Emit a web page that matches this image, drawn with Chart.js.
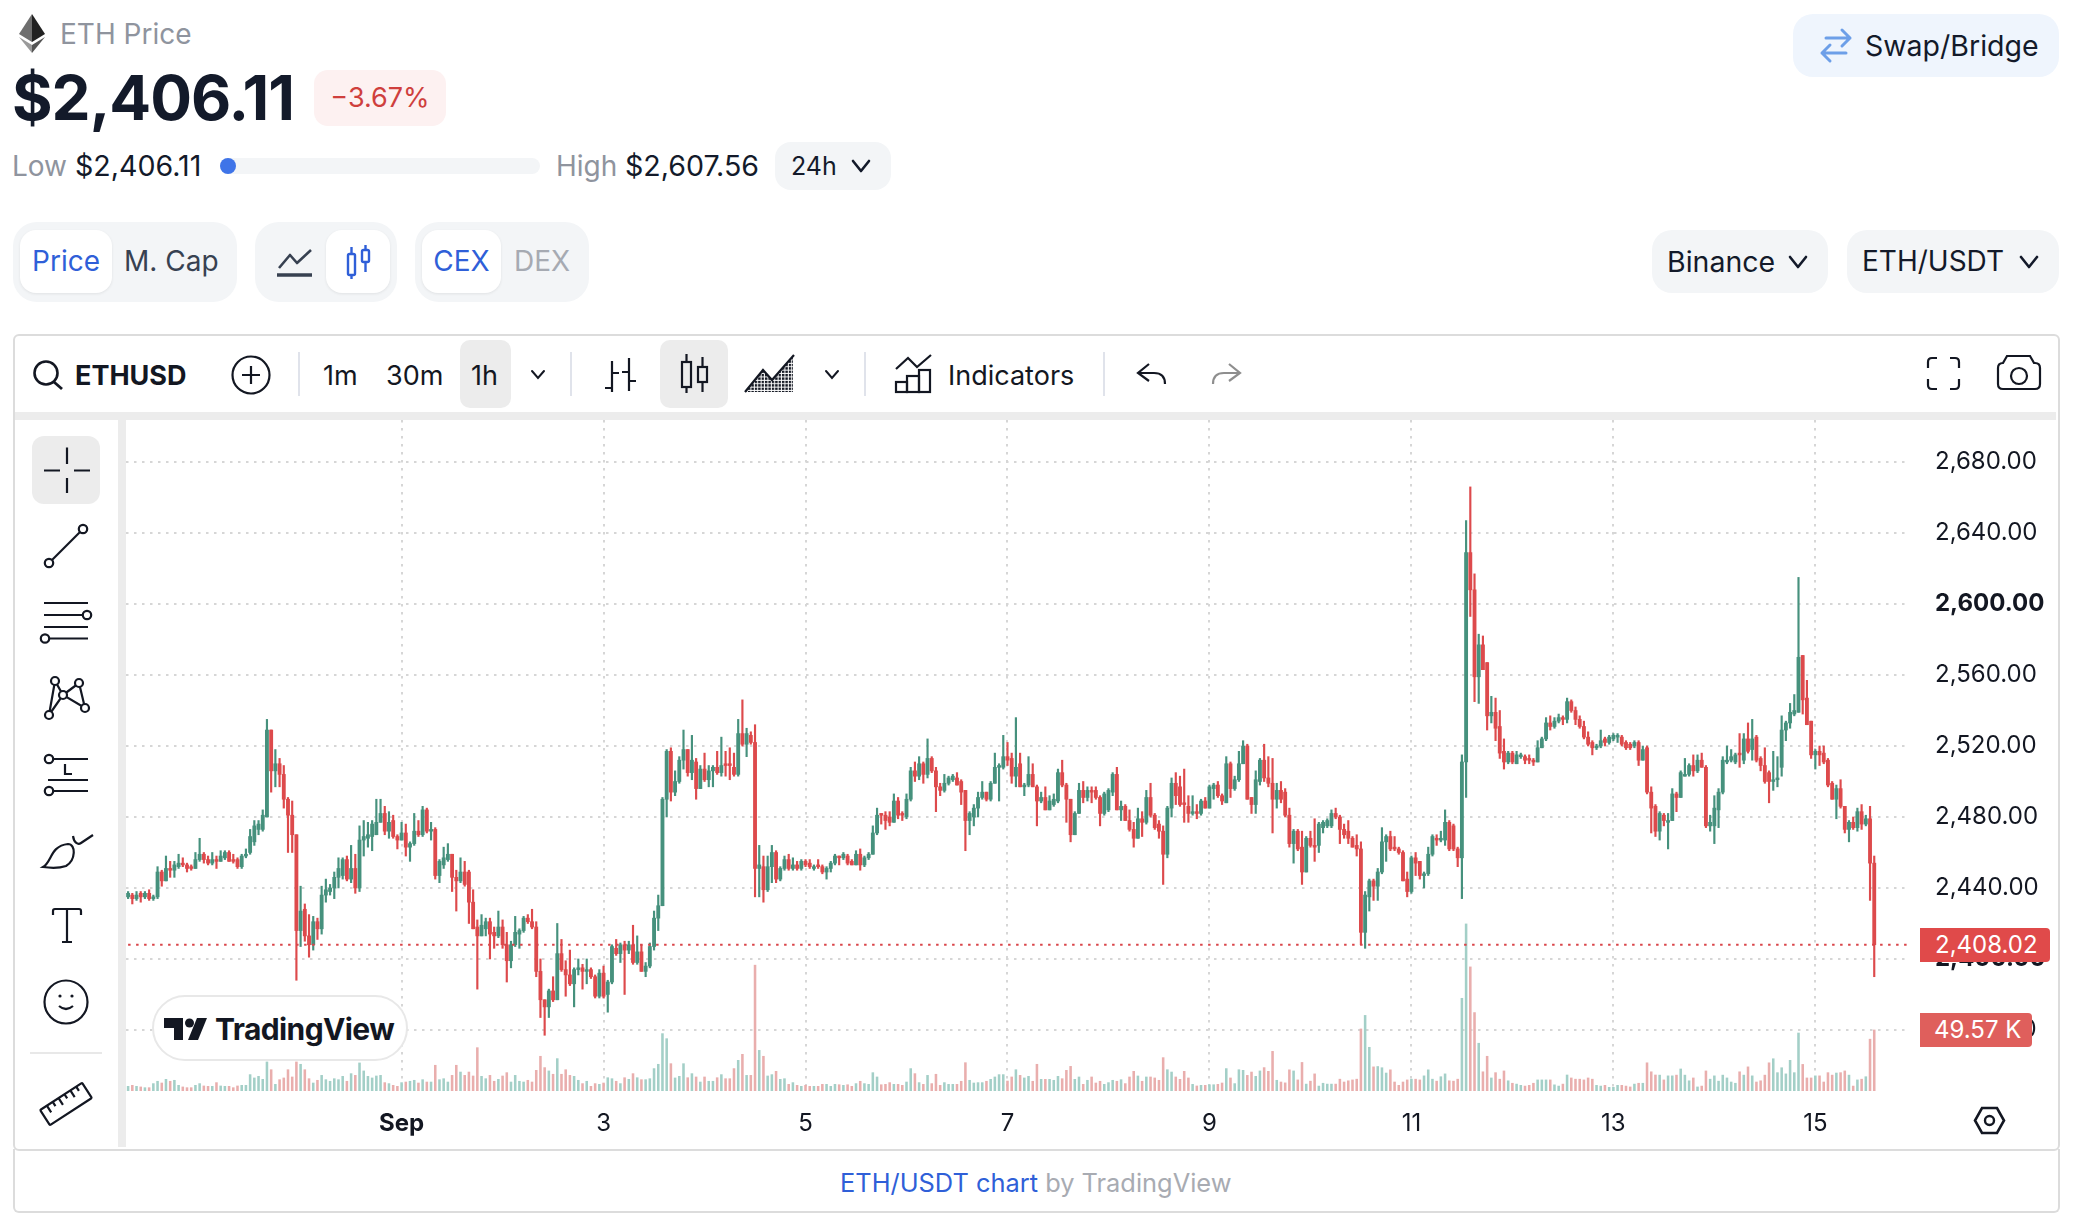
<!DOCTYPE html>
<html>
<head>
<meta charset="utf-8">
<title>ETH Price</title>
<script src="https://cdn.jsdelivr.net/npm/chart.js@4"></script>
<style>
html, body { margin: 0; padding: 0; background: #fff; }
body { width: 2078px; height: 1230px; position: relative; overflow: hidden; font-family: Inter, sans-serif; color: #131a2a; }
.a { position: absolute; white-space: nowrap; }
.pill { background: #f3f5f7; border-radius: 20px; }
.white { background: #fff; border-radius: 16px; box-shadow: 0 1px 3px rgba(0,0,0,.08); }
.gray { color: #8f949e; }
.blue { color: #2f5fd8; }
.tool { font-size: 27px; line-height: 40px; color: #131722; top: 356px; }
svg { position: absolute; left: 0; top: 0; }
</style>
</head>
<body>

<!-- header -->
<div class="a gray" style="left:60px;top:16px;font-size:28px;line-height:36px">ETH Price</div>
<div class="a" style="left:12px;top:60px;font-size:62px;line-height:76px;font-weight:700;letter-spacing:-1px">$2,406.11</div>
<div class="a" style="left:314px;top:70px;width:132px;height:56px;border-radius:14px;background:#fdf1f1;color:#cf3f3d;font-size:27px;line-height:56px;text-align:center">−3.67%</div>
<div class="a gray" style="left:12px;top:148px;font-size:28px;line-height:36px">Low</div>
<div class="a" style="left:75px;top:148px;font-size:28.6px;line-height:36px">$2,406.11</div>
<div class="a" style="left:220px;top:158px;width:320px;height:16px;border-radius:8px;background:#f3f5f7"></div>
<div class="a" style="left:220px;top:158px;width:16px;height:16px;border-radius:8px;background:#3f74e8"></div>
<div class="a gray" style="left:556px;top:148px;font-size:28px;line-height:36px">High</div>
<div class="a" style="left:625px;top:148px;font-size:28.6px;line-height:36px">$2,607.56</div>
<div class="a pill" style="left:775px;top:142px;width:116px;height:48px;border-radius:16px"></div>
<div class="a" style="left:791px;top:148px;font-size:25px;line-height:36px">24h</div>

<div class="a pill" style="left:1793px;top:14px;width:266px;height:63px;background:#eff5fd"></div>
<div class="a" style="left:1865px;top:28px;font-size:28.5px;line-height:36px">Swap/Bridge</div>

<!-- toggles -->
<div class="a pill" style="left:13px;top:222px;width:224px;height:80px;border-radius:24px"></div>
<div class="a white" style="left:20px;top:230px;width:92px;height:63px"></div>
<div class="a blue" style="left:20px;top:230px;width:92px;font-size:28px;line-height:63px;text-align:center">Price</div>
<div class="a" style="left:124px;top:230px;font-size:28px;line-height:63px;color:#374151">M. Cap</div>
<div class="a pill" style="left:255px;top:222px;width:142px;height:80px;border-radius:24px"></div>
<div class="a white" style="left:326px;top:230px;width:64px;height:63px"></div>
<div class="a pill" style="left:415px;top:222px;width:174px;height:80px;border-radius:24px"></div>
<div class="a white" style="left:422px;top:230px;width:79px;height:63px"></div>
<div class="a blue" style="left:422px;top:230px;width:79px;font-size:28px;line-height:63px;text-align:center">CEX</div>
<div class="a gray" style="left:514px;top:230px;font-size:28px;line-height:63px;color:#a6aab2">DEX</div>
<div class="a pill" style="left:1652px;top:230px;width:176px;height:63px"></div>
<div class="a" style="left:1667px;top:230px;font-size:28.5px;line-height:63px">Binance</div>
<div class="a pill" style="left:1847px;top:230px;width:212px;height:63px"></div>
<div class="a" style="left:1862px;top:230px;font-size:28px;line-height:63px">ETH/USDT</div>

<!-- chart frame -->
<div class="a" style="left:13px;top:334px;width:2043px;height:813px;border:2px solid #dcdcdc;border-radius:6px"></div>
<div class="a" style="left:13px;top:1149px;width:2043px;height:62px;border:2px solid #dcdcdc;border-top:none;border-radius:0 0 6px 6px"></div>
<div class="a" style="left:15px;top:412px;width:2041px;height:8px;background:#ececec"></div>
<div class="a" style="left:118px;top:412px;width:8px;height:735px;background:#ececec"></div>

<!-- chart toolbar -->
<div class="a" style="left:75px;top:356px;font-size:27px;line-height:40px;font-weight:700;color:#131722">ETHUSD</div>
<div class="a" style="left:460px;top:340px;width:51px;height:68px;border-radius:10px;background:#ececec"></div>
<div class="a" style="left:660px;top:340px;width:68px;height:68px;border-radius:10px;background:#ececec"></div>
<div class="a tool" style="left:323px">1m</div>
<div class="a tool" style="left:386px">30m</div>
<div class="a tool" style="left:471px">1h</div>
<div class="a tool" style="left:948px">Indicators</div>
<div class="a" style="left:32px;top:436px;width:68px;height:68px;border-radius:12px;background:#ececec"></div>

<!-- footer -->
<div class="a" style="left:840px;top:1165px;font-size:25.4px;line-height:36px;color:#a8abb2"><span class="blue">ETH/USDT chart</span> by TradingView</div>

<canvas id="price-chart" class="a" width="1932" height="729" style="left:126px;top:420px"></canvas>

<!-- overlays on top of the chart -->
<div class="a" style="left:152px;top:995px;width:252px;height:62px;border:2px solid #e8e8e8;border-radius:33px;background:#fff"></div>
<div class="a" style="left:215px;top:1010px;font-size:30px;line-height:38px;font-weight:700;letter-spacing:-.6px;color:#131722">TradingView</div>
<div class="a" id="last-price-tag" style="left:1920px;top:928px;width:130px;height:34px;border-radius:0 4px 4px 0;background:#e04a4a;color:#fff;font-size:24px;line-height:34px;padding-left:15px;box-sizing:border-box"></div>
<div class="a" id="last-volume-tag" style="left:1920px;top:1013px;width:112px;height:34px;border-radius:0 4px 4px 0;background:#df5f5c;color:#fff;font-size:24px;line-height:34px;padding-left:14px;box-sizing:border-box"></div>

<!-- icons -->
<svg width="2078" height="1230" viewBox="0 0 2078 1230" fill="none" stroke="#131722" stroke-width="2.2">
<defs>
<pattern id="hatch" width="3.4" height="3.4" patternUnits="userSpaceOnUse"><rect width="1.3" height="1.3" fill="#131722"/></pattern>
</defs>
<!-- eth logo -->
<g stroke="none">
<polygon points="32,14 45,34 32,42" fill="#222"/>
<polygon points="32,14 19,34 32,42" fill="#6e6e6e"/>
<polygon points="19,37 32,45 32,53" fill="#9a9a9a"/>
<polygon points="45,37 32,45 32,53" fill="#555"/>
</g>
<!-- chevrons -->
<g stroke="#131a2a" stroke-width="2.6" stroke-linecap="round" stroke-linejoin="round">
<polyline points="853,161 861,171 869,161"/>
<polyline points="1790,257 1798,267 1806,257"/>
<polyline points="2021,257 2029,267 2037,257"/>
</g>
<g stroke-width="2" stroke-linecap="round">
<polyline points="532,371 538,378 544,371"/>
<polyline points="826,371 832,378 838,371"/>
</g>
<!-- swap arrows -->
<g stroke="#6d9fe8" stroke-width="3" stroke-linecap="round" stroke-linejoin="round">
<path d="M1826 38 H1850 M1842 30 L1850 38 L1842 46"/>
<path d="M1846 53 H1822 M1830 45 L1822 53 L1830 61"/>
</g>
<!-- line + candle toggle -->
<g stroke="#374151" stroke-width="2.6" stroke-linejoin="round">
<polyline points="279,268 290,255 297,263 311,250"/>
<line x1="277" y1="275" x2="312" y2="275" stroke-width="3.4"/>
</g>
<g stroke="#2f5fd8" stroke-width="2.4">
<rect x="348" y="254" width="7" height="21" rx="1.5"/><line x1="351.5" y1="247" x2="351.5" y2="254"/><line x1="351.5" y1="275" x2="351.5" y2="279"/>
<rect x="362" y="250" width="7" height="12" rx="1.5"/><line x1="365.5" y1="245" x2="365.5" y2="250"/><line x1="365.5" y1="262" x2="365.5" y2="272"/>
</g>
<!-- toolbar -->
<circle cx="46" cy="373" r="11.5" stroke-width="2.6"/><line x1="54" y1="382" x2="62" y2="389" stroke-width="2.8"/>
<circle cx="251" cy="375" r="18.5"/><path d="M251 366 V384 M242 375 H260"/>
<g stroke="#e0e3eb" stroke-width="2">
<line x1="299" y1="352" x2="299" y2="396"/><line x1="571" y1="352" x2="571" y2="396"/>
<line x1="865" y1="352" x2="865" y2="396"/><line x1="1104" y1="352" x2="1104" y2="396"/>
</g>
<path d="M612 361 V392 M605 388 H612 M612 373 H619 M629 358 V391 M622 372 H629 M629 381 H636"/>
<rect x="682" y="362" width="9" height="25"/><path d="M686.5 354 V362 M686.5 387 V393"/>
<rect x="698" y="367" width="9" height="15"/><path d="M702.5 357 V367 M702.5 382 V392"/>
<polygon points="746,392 763,370 772,381 793,356 793,392" fill="url(#hatch)" stroke="none"/>
<polyline points="745,392 763,370 772,380 794,355"/>
<polyline points="896,369 908,358 917,367 931,355"/>
<rect x="896" y="382" width="11" height="10"/><rect x="907" y="376" width="12" height="16"/><rect x="919" y="370" width="11" height="22"/>
<path d="M1149 364 L1138 373 L1149 381 M1138 373 H1154 Q1165 373 1165 384"/>
<path d="M1229 364 L1240 373 L1229 381 M1240 373 H1224 Q1213 373 1213 384" stroke="#8e8e8e"/>
<path d="M1937 358 H1932 Q1928 358 1928 362 V368 M1950 358 H1955 Q1959 358 1959 362 V368 M1928 379 V385 Q1928 389 1932 389 H1937 M1959 379 V385 Q1959 389 1955 389 H1950"/>
<path d="M2003 363 L2007 356 H2030 L2034 363 H2035 Q2040 363 2040 368 V384 Q2040 389 2035 389 H2003 Q1998 389 1998 384 V368 Q1998 363 2003 363 Z"/>
<circle cx="2019" cy="376" r="8"/>
<!-- settings -->
<polygon points="1982,1108 1997,1108 2004,1120.5 1997,1133 1982,1133 1975,1120.5" stroke-width="2.6"/>
<circle cx="1989.5" cy="1120.5" r="4.5" stroke-width="2.4"/>
<!-- sidebar tools -->
<path d="M44 470.5 H60 M74 470.5 H90 M67 447.5 V464 M67 478 V493" />
<line x1="52" y1="560" x2="80" y2="532"/><circle cx="49" cy="563" r="4.2"/><circle cx="83" cy="529" r="4.2"/>
<path d="M44 603 H88 M44 615 H83 M44 627 H88 M49 638.5 H88"/><circle cx="87" cy="615" r="4.2"/><circle cx="45" cy="638.5" r="4.2"/>
<path d="M49 715 L55 681 L63 695 Z M63 695 L79 683 L85 708 Z"/>
<g fill="#fff"><circle cx="55" cy="681" r="4"/><circle cx="79" cy="683" r="4"/><circle cx="63" cy="695" r="4"/><circle cx="49" cy="715" r="4"/><circle cx="85" cy="708" r="4"/></g>
<path d="M53 759 H88 M48 780 H88 M53 791 H88"/><circle cx="49" cy="759" r="4.2"/><circle cx="49" cy="791" r="4.2"/>
<path d="M65 764 V774 H72"/>
<path d="M43 867 C52 862 50 846 68 844 C76 844 76 860 66 866 C60 868 50 868 43 867 Z"/>
<path d="M73 836 C74 843 78 845 81 843 L93 835"/>
<path d="M53 915 V911 Q53 909 55 909 H79 Q81 909 81 911 V915 M67 909 V942 M62 942 H72"/>
<circle cx="66" cy="1002" r="21.5"/>
<circle cx="60" cy="996" r="1.6" fill="#131722" stroke="none"/><circle cx="72" cy="996" r="1.6" fill="#131722" stroke="none"/>
<path d="M59 1006 Q66 1012 73 1006"/>
<line x1="30" y1="1053" x2="102" y2="1053" stroke="#e8e8e8"/>
<g transform="rotate(-33 66 1104)">
<rect x="41" y="1095" width="50" height="18" rx="1"/>
<path d="M49 1095 V1103 M56 1095 V1100 M63 1095 V1103 M70 1095 V1100 M77 1095 V1103 M84 1095 V1100"/>
</g>
</svg>
<svg width="2078" height="1230" viewBox="0 0 2078 1230" stroke="none" fill="#131722" style="pointer-events:none">
<path d="M164 1018 H183 V1040 H174 V1028 H164 Z"/>
<circle cx="189.5" cy="1023" r="4.5"/>
<polygon points="197,1018 207,1018 198,1040 188,1040"/>
</svg>

<script>
// ETH/USDT 1h candles, one value per hour
const opens = [
    2435,2436,2434,2437,2435,2437,2434,2435,2449,2444, 2451,2450,2452,2454,2453,2452,2451,2456,2459,2456,
    2454,2456,2455,2457,2460,2456,2456,2452,2458,2460, 2466,2473,2473,2480,2529,2506,2510,2504,2490,2481,
    2470,2416,2428,2413,2408,2421,2417,2436,2438,2440, 2446,2447,2456,2445,2451,2440,2467,2468,2469,2470,
    2477,2482,2472,2478,2469,2467,2471,2463,2465,2472, 2470,2484,2472,2473,2447,2453,2456,2459,2446,2444,
    2449,2449,2432,2418,2413,2417,2421,2415,2413,2418, 2408,2399,2408,2414,2416,2423,2421,2418,2393,2377,
    2373,2382,2377,2403,2394,2391,2386,2394,2395,2393, 2394,2390,2379,2392,2380,2387,2406,2403,2408,2405,
    2408,2398,2404,2393,2396,2407,2423,2430,2490,2517, 2494,2500,2512,2518,2505,2511,2496,2507,2501,2506,
    2508,2505,2510,2510,2508,2504,2527,2521,2526,2522, 2451,2452,2439,2452,2460,2445,2451,2456,2451,2453,
    2451,2455,2454,2451,2453,2452,2449,2451,2454,2458, 2457,2458,2455,2453,2459,2453,2457,2459,2471,2482,
    2481,2480,2477,2489,2482,2480,2490,2506,2503,2510, 2504,2513,2506,2497,2495,2499,2501,2502,2500,2495,
    2478,2480,2485,2491,2494,2490,2499,2508,2508,2514, 2513,2503,2510,2497,2498,2504,2497,2489,2491,2484,
    2487,2489,2505,2498,2490,2470,2482,2495,2491,2495, 2495,2491,2482,2484,2494,2504,2484,2486,2478,2473,
    2468,2479,2477,2491,2481,2476,2472,2459,2485,2499, 2497,2488,2486,2482,2483,2482,2489,2485,2496,2498,
    2492,2488,2510,2496,2501,2510,2520,2491,2487,2500, 2512,2502,2499,2490,2495,2494,2481,2465,2472,2463,
    2449,2468,2464,2464,2474,2475,2475,2482,2480,2473, 2472,2468,2464,2462,2415,2435,2444,2441,2449,2466,
    2469,2463,2462,2460,2445,2438,2457,2455,2447,2448, 2459,2468,2467,2467,2477,2475,2462,2457,2511,2629,
    2608,2559,2577,2567,2537,2539,2531,2517,2511,2516, 2510,2514,2514,2513,2512,2511,2519,2524,2533,2531,
    2534,2536,2535,2545,2540,2535,2531,2525,2522,2519, 2520,2524,2522,2524,2525,2525,2522,2521,2520,2522,
    2512,2519,2494,2486,2472,2481,2477,2478,2493,2491, 2503,2504,2509,2506,2512,2508,2475,2475,2484,2494,
    2511,2512,2511,2516,2512,2524,2518,2525,2513,2509, 2505,2500,2501,2508,2529,2533,2538,2539,2571,2547,
    2534,2515,2517,2516,2512,2499,2490,2496,2486,2473, 2477,2474,2483,2476,2479,2454
];
const highs = [
    2438,2437,2438,2438,2438,2439,2436,2452,2450,2458, 2455,2455,2459,2457,2454,2453,2460,2468,2460,2458,
    2460,2458,2461,2461,2461,2459,2457,2459,2462,2473, 2478,2478,2484,2535,2529,2518,2513,2509,2491,2489,
    2470,2441,2431,2425,2424,2423,2441,2445,2442,2449, 2457,2457,2458,2464,2459,2475,2478,2477,2478,2490,
    2490,2486,2483,2481,2470,2477,2476,2466,2482,2478, 2486,2485,2477,2474,2456,2463,2465,2459,2450,2457,
    2455,2450,2439,2422,2425,2423,2423,2418,2427,2422, 2415,2410,2424,2417,2424,2425,2428,2421,2400,2377,
    2383,2390,2420,2411,2399,2405,2395,2400,2397,2400, 2395,2391,2394,2396,2388,2408,2411,2409,2410,2410,
    2419,2413,2408,2398,2409,2427,2436,2491,2518,2519, 2506,2514,2529,2518,2526,2513,2509,2516,2509,2509,
    2517,2525,2517,2519,2516,2535,2546,2530,2528,2532, 2464,2458,2458,2464,2461,2452,2458,2459,2457,2455,
    2456,2456,2456,2453,2456,2453,2452,2455,2459,2458, 2460,2459,2456,2461,2462,2458,2460,2475,2485,2482,
    2483,2483,2493,2491,2483,2493,2508,2511,2514,2511, 2524,2514,2508,2499,2504,2503,2504,2505,2501,2495,
    2483,2487,2494,2500,2494,2500,2516,2510,2526,2522, 2516,2536,2516,2499,2514,2510,2498,2494,2497,2492,
    2493,2507,2512,2499,2490,2483,2499,2500,2497,2497, 2497,2492,2494,2496,2505,2508,2489,2487,2484,2477,
    2485,2483,2495,2499,2482,2478,2475,2486,2502,2505, 2503,2507,2492,2492,2487,2490,2491,2498,2499,2500,
    2493,2514,2511,2503,2517,2523,2521,2491,2506,2513, 2521,2514,2513,2499,2500,2496,2485,2473,2473,2472,
    2469,2472,2479,2477,2478,2479,2484,2485,2481,2476, 2478,2469,2470,2466,2438,2445,2445,2451,2474,2470,
    2472,2469,2463,2461,2449,2458,2460,2455,2449,2463, 2470,2470,2472,2484,2478,2476,2463,2515,2647,2666,
    2617,2583,2582,2567,2548,2547,2540,2524,2517,2517, 2517,2516,2515,2515,2513,2523,2525,2536,2537,2536,
    2538,2537,2547,2546,2542,2537,2534,2528,2523,2521, 2529,2525,2526,2527,2527,2526,2523,2522,2523,2523,
    2520,2520,2497,2487,2483,2482,2482,2496,2494,2506, 2513,2510,2515,2515,2516,2509,2481,2492,2496,2514,
    2520,2518,2516,2527,2527,2533,2535,2526,2514,2519, 2506,2517,2514,2537,2534,2544,2549,2615,2571,2557,
    2534,2518,2520,2520,2513,2500,2498,2501,2486,2478, 2480,2485,2487,2481,2486,2458
];
const lows = [
    2434,2431,2433,2432,2434,2433,2433,2434,2441,2444, 2446,2446,2451,2452,2449,2450,2451,2455,2454,2453,
    2453,2451,2455,2456,2455,2454,2451,2451,2457,2459, 2464,2470,2472,2480,2494,2497,2497,2485,2460,2460,
    2388,2407,2410,2401,2405,2411,2414,2432,2436,2434, 2440,2445,2444,2443,2437,2438,2458,2463,2461,2470,
    2477,2470,2468,2468,2462,2467,2458,2455,2464,2469, 2469,2471,2467,2445,2443,2451,2455,2438,2427,2443,
    2441,2420,2417,2383,2413,2413,2400,2406,2412,2406, 2387,2395,2407,2406,2415,2420,2417,2390,2367,2357,
    2367,2376,2377,2393,2379,2385,2373,2391,2383,2386, 2389,2378,2378,2378,2370,2386,2402,2398,2380,2403,
    2397,2397,2393,2390,2395,2405,2416,2430,2480,2489, 2492,2499,2507,2503,2501,2490,2496,2500,2497,2497,
    2504,2503,2503,2501,2503,2503,2520,2514,2521,2435, 2435,2432,2438,2443,2443,2444,2450,2450,2450,2450,
    2450,2452,2451,2450,2451,2448,2445,2449,2453,2453, 2456,2453,2453,2453,2450,2452,2456,2459,2470,2476,
    2473,2475,2477,2479,2478,2479,2489,2500,2501,2499, 2502,2505,2483,2492,2494,2498,2500,2498,2487,2461,
    2470,2475,2480,2490,2489,2489,2499,2489,2507,2509, 2499,2497,2497,2492,2497,2497,2475,2488,2484,2484,
    2486,2488,2497,2477,2466,2470,2482,2488,2489,2488, 2490,2475,2481,2483,2492,2484,2478,2478,2472,2463,
    2468,2469,2476,2480,2473,2468,2442,2457,2480,2487, 2486,2477,2477,2481,2479,2481,2485,2485,2490,2491,
    2487,2488,2491,2495,2500,2510,2490,2482,2482,2498, 2500,2497,2471,2485,2488,2480,2463,2454,2461,2442,
    2449,2463,2455,2460,2471,2474,2474,2479,2465,2468, 2465,2463,2458,2408,2406,2427,2433,2433,2448,2455,
    2461,2461,2459,2444,2435,2437,2447,2445,2440,2447, 2458,2464,2466,2464,2461,2461,2452,2434,2491,2593,
    2545,2544,2563,2529,2533,2523,2513,2507,2510,2510, 2510,2513,2510,2510,2509,2511,2519,2523,2529,2530,
    2533,2532,2533,2539,2532,2530,2524,2520,2515,2518, 2519,2520,2521,2523,2522,2520,2518,2518,2519,2509,
    2512,2493,2471,2469,2467,2475,2462,2478,2483,2491, 2503,2503,2503,2505,2508,2474,2472,2465,2474,2493,
    2510,2511,2510,2508,2510,2516,2512,2511,2506,2499, 2488,2495,2497,2503,2523,2530,2537,2539,2538,2532,
    2513,2507,2509,2510,2497,2490,2479,2485,2471,2466, 2473,2472,2473,2475,2433,2390
];
const closes = [
    2437,2434,2436,2435,2437,2434,2435,2449,2444,2451, 2450,2453,2454,2453,2451,2451,2456,2459,2456,2454,
    2456,2455,2458,2460,2455,2455,2452,2458,2459,2469, 2475,2476,2481,2529,2506,2510,2504,2490,2481,2470,
    2416,2427,2413,2408,2421,2417,2436,2439,2440,2446, 2451,2456,2445,2451,2440,2467,2469,2470,2476,2477,
    2482,2472,2477,2469,2467,2471,2463,2465,2472,2470, 2484,2472,2473,2447,2455,2457,2459,2446,2444,2449,
    2442,2432,2417,2413,2419,2421,2414,2413,2418,2408, 2399,2408,2415,2416,2423,2421,2418,2393,2377,2373,
    2382,2377,2403,2394,2391,2386,2394,2395,2393,2394, 2390,2379,2392,2379,2387,2407,2403,2408,2405,2408,
    2398,2404,2393,2396,2407,2423,2430,2490,2517,2494, 2500,2512,2518,2505,2512,2496,2507,2501,2506,2508,
    2505,2509,2509,2509,2504,2527,2521,2527,2522,2451, 2453,2439,2452,2460,2445,2451,2456,2451,2453,2451,
    2455,2453,2452,2452,2452,2449,2451,2454,2458,2457, 2459,2454,2453,2459,2453,2457,2459,2471,2481,2481,
    2478,2477,2489,2481,2481,2490,2506,2503,2510,2504, 2513,2506,2497,2495,2499,2502,2503,2498,2494,2478,
    2482,2485,2491,2494,2490,2499,2508,2509,2514,2512, 2503,2508,2497,2498,2504,2497,2489,2491,2484,2489,
    2490,2505,2498,2490,2470,2482,2495,2491,2495,2494, 2491,2482,2493,2495,2504,2484,2486,2478,2473,2468,
    2479,2477,2491,2481,2474,2472,2459,2485,2499,2492, 2487,2487,2482,2483,2482,2489,2485,2497,2498,2492,
    2489,2510,2496,2501,2510,2520,2490,2487,2501,2512, 2502,2499,2490,2495,2490,2481,2465,2472,2462,2449,
    2468,2464,2463,2476,2477,2478,2482,2480,2473,2470, 2468,2463,2462,2415,2436,2444,2441,2449,2466,2469,
    2462,2462,2460,2444,2438,2457,2454,2447,2448,2459, 2469,2467,2468,2477,2462,2462,2457,2511,2629,2608,
    2559,2577,2563,2537,2539,2530,2516,2511,2516,2511, 2515,2515,2512,2512,2511,2519,2524,2533,2531,2534,
    2536,2535,2545,2540,2535,2531,2525,2521,2519,2520, 2523,2522,2525,2526,2526,2521,2519,2519,2522,2512,
    2518,2494,2485,2472,2482,2478,2478,2493,2491,2505, 2504,2509,2506,2512,2508,2475,2477,2485,2494,2512,
    2512,2514,2515,2515,2524,2517,2524,2512,2509,2500, 2500,2501,2502,2529,2533,2539,2540,2570,2546,2532,
    2515,2517,2515,2511,2498,2490,2496,2486,2473,2477, 2474,2483,2476,2479,2454,2408
];
// volume in thousands, last bar is the 49.57K tag
const volumes = [
    3.8,4.6,3.8,3.3,2.7,2.7,6,7.9,6.5,9.5, 7.9,8.7,4.6,3.3,2.7,2.7,4.6,6,4.1,3.8,
    3.8,6.8,4.1,3.8,3.8,2.7,4.1,4.6,4.6,13.3, 10.6,11.9,9.5,23.6,17.3,5.4,9.2,10.6,17.3,11.4,
    23.6,21.7,17.3,10,6.5,8.7,12.7,9.2,7.9,10, 9.2,11.9,7.9,14.1,12.7,22.8,16.3,11.9,10.6,12.2,
    12.7,6.8,6,4.6,3.8,6.8,7.3,7.9,8.7,6.5, 9.2,7.3,7.3,20.9,9.2,10,7.3,12.7,20.9,15.4,
    12.7,15.4,12.2,35.2,11.9,10,12.7,7.9,9.5,12.2, 14.9,7.3,12.7,7.9,7.3,8.7,7.3,16.8,28.2,19,
    16.3,13.6,26.3,13.6,17.3,12.7,11.9,8.7,6,7.9, 3.8,6,5.4,6.5,10.8,10,7.9,6,10.8,9.5,
    14.1,10.8,9.2,9.2,10,18.2,21.7,46.6,42.5,22.2, 10.6,11.9,22.2,10.8,14.1,11.4,7.3,11.4,7.9,7.9,
    10.8,13.3,10,10,18.2,24.9,29.8,12.7,12.7,102.2, 33,28.2,12.2,13.3,16,9.5,10,5.4,6.8,4.6,
    3.8,4.6,3.8,3.8,3.8,5.4,5.4,3.8,5.4,5.1, 4.6,5.1,3.8,6,7.9,6,5.4,14.9,11.4,5.1,
    5.4,6.8,5.4,5.4,4.6,7.3,18.2,14.1,6.8,5.4, 12.7,6,13.6,4.6,6.8,5.4,5.4,5.4,7.9,23,
    8.7,6.5,6.8,6.8,7.9,9.5,11.4,13.3,13.3,8.1, 11.4,17.3,12.7,10.6,11.9,7.9,21.7,9.5,9.5,9.5,
    8.7,11.9,10,16.8,20,9.5,11.4,5.4,8.7,11.4, 6.5,7.9,5.4,6.8,8.7,7.9,9.2,6,11.4,16,
    12.2,7.9,11.4,11.4,10.6,8.7,27.1,17.3,15.4,11.4, 9.5,16,10.6,5.4,4.1,4.6,4.6,5.1,5.1,5.4,
    6.5,18.2,10.6,6,17.3,16.8,12.7,15.4,11.9,16.3, 19,16,32.2,8.7,7.3,6.6,17.2,16.3,9,23.2,
    5.6,8,13.9,4,6.3,5.6,5.6,5.6,9.6,7.3, 8.3,9,9.6,50.4,61.4,35.5,19.6,19.9,18.9,14.6,
    17.2,7.3,4.6,7.3,9,9.6,9.6,9,12.3,17.2, 9.6,8,11.6,13.9,8.3,8,9.6,75.3,135.7,100.8,
    63.7,38.8,15.6,28.2,10.6,14.9,9.6,16.3,8.3,6.3, 5.6,4.6,4,4.6,6.3,9,9,9,9,5,
    4,5.6,13,10.6,9.6,9.6,9,10.6,9.6,4.6, 4,4.6,3,3,4.6,4.6,4,3.3,5.6,6.3,
    6.3,22.9,15.6,13,12.9,9,12.3,12.3,12.9,17.9, 12.9,8.3,10.6,3.3,4,16.3,9.6,12.3,8,12.9,
    10.6,7.3,6.3,15.6,12.9,19.6,12.3,7.3,8.3,12.9, 22.9,26.2,14.9,18.9,13.9,24.9,14.9,47.1,21.6,10.6,
    10.6,12.3,12.3,7.3,14.9,12.9,14.6,14.9,16.3,12.9, 4,9,9.6,11.6,42.1,49.57
];

const tickIndexes = [65, 113, 161, 209, 257, 305, 353, 401];
const tickLabels = ['Sep', '3', '5', '7', '9', '11', '13', '15'];
const priceTicks = [2360, 2400, 2440, 2480, 2520, 2560, 2600, 2640, 2680];
const boldPriceTicks = [2400, 2600];
const EMPTY_BARS_RIGHT = 8;
const LAST_PRICE = 2408.02;
const LAST_VOLUME = '49.57 K';

const COLORS = {
    up: '#46917d',
    down: '#dd4a4c',
    upVolume: '#a3cfc7',
    downVolume: '#e9aead',
    grid: '#d6d6d6',
    text: '#131722',
    lastPrice: '#d9454a'
};

const FONT = 'Inter, sans-serif';

const labels = [];
for (let i = 0; i < opens.length + EMPTY_BARS_RIGHT; i++) {
    const tickPos = tickIndexes.indexOf(i);
    labels.push(tickPos >= 0 ? tickLabels[tickPos] : '');
}

const isUp = closes.map((c, i) => c >= opens[i]);

document.getElementById('last-price-tag').textContent =
    LAST_PRICE.toLocaleString('en-US', { minimumFractionDigits: 2 });
document.getElementById('last-volume-tag').textContent = LAST_VOLUME;

new Chart(document.getElementById('price-chart').getContext('2d'), {
    data: {
        labels: labels,
        datasets: [
            {
                type: 'line',
                label: 'Last price',
                data: labels.map(() => LAST_PRICE),
                yAxisID: 'price',
                borderColor: COLORS.lastPrice,
                borderWidth: 2,
                borderDash: [2.5, 5.5],
                pointRadius: 0,
                order: 0
            },
            {
                type: 'bar',
                label: 'Body',
                data: opens.map((o, i) => [o, closes[i]]),
                yAxisID: 'price',
                backgroundColor: isUp.map(up => up ? COLORS.up : COLORS.down),
                barThickness: 3.2,
                minBarLength: 1.6,
                grouped: false,
                order: 1
            },
            {
                type: 'bar',
                label: 'Wick',
                data: lows.map((l, i) => [l, highs[i]]),
                yAxisID: 'price',
                backgroundColor: isUp.map(up => up ? COLORS.up : COLORS.down),
                barThickness: 1.5,
                grouped: false,
                order: 2
            },
            {
                type: 'bar',
                label: 'Volume',
                data: volumes,
                yAxisID: 'volume',
                backgroundColor: isUp.map(up => up ? COLORS.upVolume : COLORS.downVolume),
                barThickness: 1.9,
                grouped: false,
                order: 3
            }
        ]
    },
    options: {
        responsive: false,
        animation: false,
        devicePixelRatio: 1,
        layout: { padding: 0 },
        plugins: {
            legend: { display: false },
            tooltip: { enabled: false }
        },
        scales: {
            x: {
                type: 'category',
                offset: true,
                afterBuildTicks: axis => {
                    axis.ticks = tickIndexes.map(i => ({ value: i }));
                },
                afterFit: axis => {
                    axis.height = 58;
                    axis.paddingLeft = 0;
                    axis.paddingRight = 0;
                },
                grid: {
                    color: COLORS.grid,
                    lineWidth: 2,
                    offset: false,
                    drawTicks: false
                },
                border: { display: false, dash: [2.5, 5.5] },
                ticks: {
                    autoSkip: false,
                    maxRotation: 0,
                    padding: 18,
                    color: COLORS.text,
                    font: ctx => ({
                        family: FONT,
                        size: 24,
                        weight: ctx.index === 0 ? 'bold' : 'normal'
                    })
                }
            },
            price: {
                position: 'right',
                min: 2325.6,
                max: 2703.7,
                afterBuildTicks: axis => {
                    axis.ticks = priceTicks.map(v => ({ value: v }));
                },
                afterFit: axis => {
                    axis.width = 148;
                    axis.paddingTop = 0;
                    axis.paddingBottom = 0;
                },
                grid: {
                    color: COLORS.grid,
                    lineWidth: 2,
                    drawTicks: false
                },
                border: { display: false, dash: [2.5, 5.5] },
                ticks: {
                    padding: 25,
                    color: COLORS.text,
                    callback: value => value.toLocaleString('en-US', { minimumFractionDigits: 2 }),
                    font: ctx => ({
                        family: FONT,
                        size: 24,
                        weight: boldPriceTicks.includes(ctx.tick && ctx.tick.value) ? 'bold' : 'normal'
                    })
                }
            },
            volume: {
                display: false,
                min: 0,
                max: 545
            }
        }
    }
});
</script>
</body>
</html>
